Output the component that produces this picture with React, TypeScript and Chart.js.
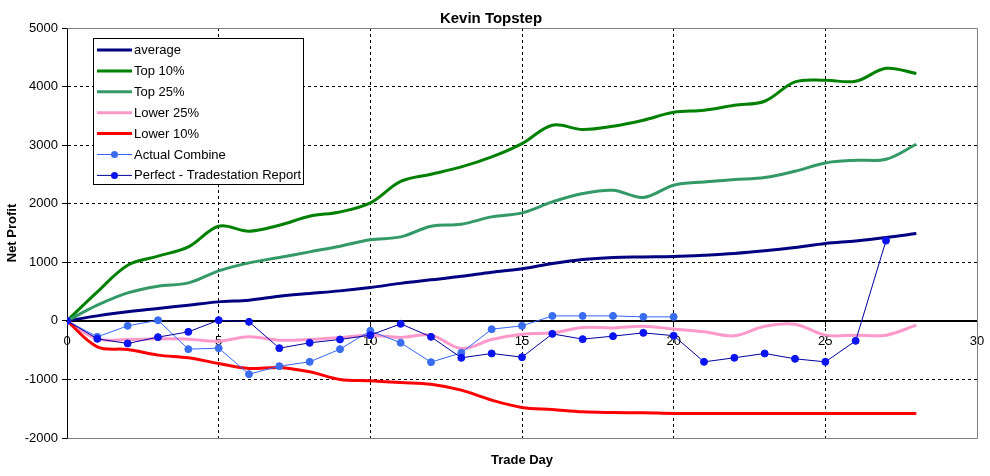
import React, { useEffect, useRef } from "react";
import { Chart, registerables, Plugin } from "chart.js";

Chart.register(...registerables);

const tradeDays = [
  0, 1, 2, 3, 4, 5, 6, 7, 8, 9, 10, 11, 12, 13, 14, 15, 16, 17, 18, 19, 20, 21,
  22, 23, 24, 25, 26, 27, 28,
];

const average = [
  0, 85, 154, 211, 268, 324, 353, 421, 467, 512, 570, 640, 700, 760, 830, 890,
  979, 1048, 1082, 1092, 1100, 1121, 1150, 1195, 1252, 1321, 1365, 1423, 1491,
];
const top10 = [
  0, 495, 950, 1105, 1263, 1616, 1531, 1633, 1786, 1860, 2014, 2380, 2503,
  2628, 2799, 3027, 3340, 3266, 3322, 3425, 3560, 3596, 3681, 3749, 4079, 4108,
  4090, 4312, 4222,
];
const top25 = [
  0, 268, 478, 592, 648, 853, 990, 1082, 1178, 1275, 1385, 1434, 1616, 1650,
  1775, 1843, 2031, 2174, 2230, 2106, 2316, 2372, 2413, 2447, 2555, 2696, 2742,
  2759, 3015,
];
const lower25 = [
  0, -307, -318, -307, -312, -346, -273, -329, -318, -284, -244, -284, -244,
  -472, -318, -227, -205, -114, -120, -91, -140, -187, -256, -91, -57, -244,
  -244, -244, -74,
];
const lower10 = [
  0, -443, -489, -585, -631, -728, -813, -796, -870, -1001, -1024, -1052,
  -1081, -1183, -1353, -1478, -1513, -1553, -1565, -1570, -1581, -1581, -1581,
  -1581, -1581, -1581, -1581, -1581, -1581,
];
const actualCombine = [
  0, -273, -85, 10, -483, -466, -910, -773, -700, -483, -170, -375, -705, -546,
  -142, -85, 85, 85, 85, 68, 68,
];
const perfectReport = [
  0, -307, -386, -278, -188, 12, -17, -466, -375, -318, -244, -51, -273, -631,
  -557, -620, -222, -312, -261, -205, -253, -700, -631, -557, -648, -700, -341,
  1370,
];

const yTicks = [-2000, -1000, 0, 1000, 2000, 3000, 4000, 5000];

const FONT = "'Liberation Sans', Arial, sans-serif";

const toPoints = (values: number[]) =>
  values.map((v, i) => ({ x: tradeDays[i], y: v }));

const App: React.FC = () => {
  const canvasRef = useRef<HTMLCanvasElement | null>(null);

  useEffect(() => {
    const ctx = canvasRef.current?.getContext("2d");
    if (!ctx) return;

    const thick = (label: string, data: number[], color: string) => ({
      label,
      data: toPoints(data),
      borderColor: color,
      backgroundColor: color,
      borderWidth: 3,
      pointRadius: 0,
      tension: 0.35,
      fill: false,
    });

    const marked = (
      label: string,
      data: number[],
      line: string,
      marker: string
    ) => ({
      label,
      data: toPoints(data),
      borderColor: line,
      backgroundColor: marker,
      pointBackgroundColor: marker,
      pointBorderColor: marker,
      borderWidth: 1,
      pointRadius: 3.5,
      pointBorderWidth: 1,
      tension: 0,
      fill: false,
    });

    const datasets = [
      thick("average", average, "#000080"),
      thick("Top 10%", top10, "#008000"),
      thick("Top 25%", top25, "#339966"),
      thick("Lower 25%", lower25, "#ff99cc"),
      thick("Lower 10%", lower10, "#ff0000"),
      marked("Actual Combine", actualCombine, "#3366ff", "#3a6cf0"),
      marked("Perfect - Tradestation Report", perfectReport, "#0000a0", "#0a14f0"),
    ].map((d, i, arr) => ({ ...d, order: arr.length - i }));

    const framePlugin: Plugin<"line"> = {
      id: "frame",
      beforeDatasetsDraw(chart) {
        const { ctx: c, chartArea: a } = chart;
        const l = Math.round(a.left) + 0.5;
        const r = Math.round(a.right) + 0.5;
        const t = Math.round(a.top) + 0.5;
        const b = Math.round(a.bottom) + 0.5;
        c.save();
        c.strokeStyle = "#808080";
        c.lineWidth = 1;
        c.beginPath();
        c.moveTo(l, t);
        c.lineTo(r, t);
        c.lineTo(r, b);
        c.lineTo(l, b);
        c.stroke();
        c.restore();
      },
    };

    const textPlugin: Plugin<"line"> = {
      id: "texts",
      afterDraw(chart) {
        const { ctx: c, chartArea: a } = chart;
        c.save();
        c.fillStyle = "#000";
        c.textAlign = "center";
        c.textBaseline = "middle";
        c.font = `bold 15px ${FONT}`;
        c.fillText("Kevin Topstep", 491, 19);
        c.font = `bold 13px ${FONT}`;
        c.fillText("Trade Day", (a.left + a.right) / 2, 460);
        c.translate(12, (a.top + a.bottom) / 2);
        c.rotate(-Math.PI / 2);
        c.fillText("Net Profit", 0, 0);
        c.restore();

        // legend box
        c.save();
        const bx = 93.5;
        const by = 38.5;
        c.fillStyle = "#fff";
        c.fillRect(bx, by, 210, 146);
        c.strokeStyle = "#000";
        c.lineWidth = 1;
        c.strokeRect(bx, by, 210, 146);
        c.font = `13px ${FONT}`;
        c.textAlign = "left";
        c.textBaseline = "middle";
        chart.data.datasets.forEach((ds: any, i) => {
          const y = 50 + i * 20.9;
          c.strokeStyle = ds.borderColor;
          c.lineWidth = ds.borderWidth;
          c.beginPath();
          c.moveTo(97, y);
          c.lineTo(132, y);
          c.stroke();
          if (ds.pointRadius > 0) {
            c.fillStyle = ds.pointBackgroundColor;
            c.beginPath();
            c.arc(114.5, y, ds.pointRadius, 0, Math.PI * 2);
            c.fill();
          }
          c.fillStyle = "#000";
          c.fillText(ds.label, 134, y + 0.5);
        });
        c.restore();
      },
    };

    const chart = new Chart(ctx, {
      type: "line",
      data: { datasets: datasets as any },
      options: {
        animation: false,
        responsive: true,
        maintainAspectRatio: false,
        layout: { padding: { left: 0, right: 13, top: 28, bottom: 38 } },
        plugins: {
          legend: { display: false },
          title: { display: false },
          tooltip: { enabled: false },
        },
        scales: {
          x: {
            type: "linear",
            min: 0,
            max: 30,
            position: { y: 0 } as any,
            afterFit: (scale: any) => {
              scale.paddingLeft = 0;
              scale.paddingRight = 0;
            },
            ticks: {
              stepSize: 5,
              color: "#000",
              font: { family: FONT, size: 13 },
              padding: 8,
              maxRotation: 0,
              callback: (v: any) => String(v),
            },
            grid: {
              color: (c: any) =>
                c.tick && (c.tick.value === 0 || c.tick.value === 30)
                  ? "rgba(0,0,0,0)"
                  : "#000",
              tickColor: "#000",
              tickLength: 5,
              lineWidth: 1,
            },
            border: { display: true, color: "#000", width: 2, dash: [3, 3] },
          },
          y: {
            type: "linear",
            min: -2000,
            max: 5000,
            afterBuildTicks: (scale: any) => {
              scale.ticks = yTicks.map((v) => ({ value: v }));
            },
            afterFit: (scale: any) => {
              scale.width = 67;
            },
            ticks: {
              color: "#000",
              font: { family: FONT, size: 13 },
              padding: 4,
              callback: (v: any) => String(v),
            },
            grid: {
              color: (c: any) =>
                c.tick && (c.tick.value === 5000 || c.tick.value === -2000)
                  ? "rgba(0,0,0,0)"
                  : "#000",
              tickColor: "#000",
              tickLength: 5,
              lineWidth: 1,
            },
            border: { display: true, color: "#000", width: 1, dash: [3, 3] },
          },
        },
      },
      plugins: [framePlugin, textPlugin],
    });

    return () => {
      chart.destroy();
    };
  }, []);

  return (
    <div
      style={{
        position: "fixed",
        left: 0,
        top: 0,
        width: "990px",
        height: "476px",
        background: "#fff",
      }}
    >
      <canvas ref={canvasRef} />
    </div>
  );
};

export default App;
